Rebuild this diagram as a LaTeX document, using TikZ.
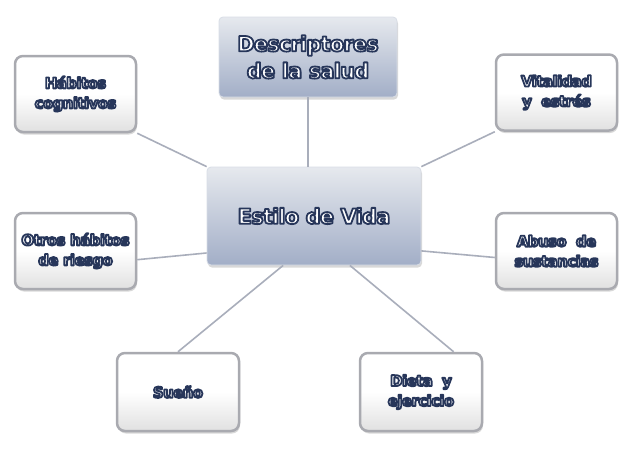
\documentclass[tikz,border=0pt]{standalone}
\usepackage{fontspec}
\setmainfont{DejaVu Sans}[LetterSpace=-4]
\usetikzlibrary{shadows}
\definecolor{navy}{HTML}{27365A}
\definecolor{leafborder}{HTML}{A9AAB0}
\definecolor{linkcol}{HTML}{A9AEBB}
\definecolor{hubtop}{HTML}{E6E9EE}
\definecolor{hubbot}{HTML}{A2AEC7}
\newcommand\ct[1]{\special{pdf:literal direct 2 Tr 1.8 w 1 j 0.153 0.212 0.353 RG}#1\special{pdf:literal direct 0 Tr}}
\tikzset{
  leaf/.style={rectangle, rounded corners=8pt, draw=leafborder, line width=2.5pt,
    top color=white, bottom color=black!12, middle color=white,
    minimum width=121pt, minimum height=76pt, align=center, text=white,
    font=\bfseries\fontsize{15}{20}\selectfont,
    drop shadow={opacity=0.3, shadow xshift=1pt, shadow yshift=-2.5pt}},
  hub/.style={rectangle, rounded corners=4pt, draw=hubtop!80!hubbot, line width=0.8pt,
    top color=hubtop, bottom color=hubbot, align=center, text=white,
    drop shadow={opacity=0.3, shadow xshift=1pt, shadow yshift=-2.5pt}},
  link/.style={draw=linkcol, line width=1.6pt}
}
\begin{document}
\begin{tikzpicture}[x=1pt,y=-1pt]
\useasboundingbox[fill=white] (0,0) rectangle (630,459);
% hub nodes
\node[hub, minimum width=178pt, minimum height=80pt,
  font=\bfseries\fontsize{21}{27}\selectfont] (desc) at (308,57)
  {\ct{Descriptores}\\\ct{de la salud}};
\node[hub, minimum width=214pt, minimum height=98pt,
  font=\bfseries\fontsize{21}{27}\selectfont] (estilo) at (314,216)
  {\ct{Estilo de Vida}};
% leaves
\node[leaf] (hab) at (75.5,94) {\ct{Hábitos}\\\ct{cognitivos}};
\node[leaf] (otros) at (75.5,251) {\ct{Otros hábitos}\\\ct{de riesgo}};
\node[leaf] (vit) at (556.5,92.5) {\ct{Vitalidad}\\\ct{y\ \ estrés}};
\node[leaf] (abuso) at (556.5,251) {\ct{Abuso\ \ de}\\\ct{sustancias}};
\node[leaf, minimum width=122pt, minimum height=78pt] (sueno) at (178,392) {\ct{Sueño}};
\node[leaf, minimum width=122pt, minimum height=78pt] (dieta) at (421,392) {\ct{Dieta\ \ y}\\\ct{ejercicio}};
% connectors
\draw[link] (desc.south) -- (desc.south |- estilo.north);
\draw[link] (hab.south east) -- (estilo.north west);
\draw[link] (otros.-8) -- (estilo.199);
\draw[link] (vit.south west) -- (estilo.north east);
\draw[link] (abuso.186) -- (estilo.-18);
\draw[link] (sueno.north) -- (estilo.238);
\draw[link] (dieta.51) -- (estilo.-54);
\end{tikzpicture}
\end{document}
